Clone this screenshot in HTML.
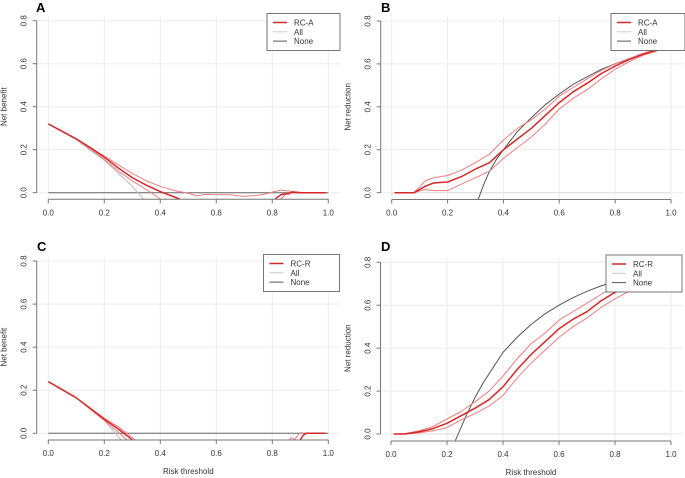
<!DOCTYPE html>
<html><head><meta charset="utf-8">
<style>
html,body{margin:0;padding:0;background:#fff;}
svg{display:block;font-family:"Liberation Sans",sans-serif;}
</style></head>
<body>
<svg id="fig" width="685" height="478" viewBox="0 0 685 478"></svg>
<script>
// ---------- data ----------
const xTicks = [0, 0.2, 0.4, 0.6, 0.8, 1.0];
const xTickLabels = ["0.0","0.2","0.4","0.6","0.8","1.0"];
const yTicks = [0, 0.2, 0.4, 0.6, 0.8];
const yTickLabels = ["0.0","0.2","0.4","0.6","0.8"];

// Panel A (net benefit, RC-A)
const aAllX = [0, 0.1, 0.2, 0.3, 0.34];
const aAllY = [0.32, 0.245, 0.15, 0.03, -0.03];
const aMeanX = [0, 0.1, 0.15, 0.2, 0.25, 0.3, 0.35, 0.4, 0.45, 0.47];
const aMeanY = [0.32, 0.25, 0.21, 0.165, 0.115, 0.07, 0.035, 0.005, -0.02, -0.03];
const aMean2X = [0.81, 0.83, 0.85, 0.87, 0.9, 0.99];
const aMean2Y = [-0.03, -0.01, -0.005, 0.002, 0.0, 0.0];
const aUpX = [0, 0.1, 0.2, 0.25, 0.3, 0.35, 0.4, 0.45, 0.5, 0.53, 0.56, 0.6, 0.65, 0.7, 0.75, 0.78, 0.8, 0.83, 0.86, 0.9];
const aUpY = [0.32, 0.25, 0.17, 0.13, 0.09, 0.055, 0.03, 0.01, -0.003, -0.015, -0.008, -0.01, -0.01, -0.017, -0.012, -0.005, 0.003, 0.012, 0.008, 0.002];
const aLoX = [0, 0.1, 0.2, 0.25, 0.3, 0.35, 0.4];
const aLoY = [0.32, 0.25, 0.155, 0.1, 0.055, 0.015, -0.03];
const aLo2X = [0.83, 0.85, 0.86, 0.87];
const aLo2Y = [-0.03, -0.005, -0.01, 0.005];

// Panel B (net reduction, RC-A)
const bNoneX = [0.31, 0.33, 0.35, 0.375, 0.4, 0.45, 0.5, 0.55, 0.6, 0.65, 0.7, 0.75, 0.8, 0.85, 0.9, 0.95, 1.0];
const bNoneY = [-0.03, 0.04, 0.1, 0.155, 0.2, 0.285, 0.35, 0.41, 0.46, 0.505, 0.54, 0.575, 0.6, 0.625, 0.645, 0.665, 0.68];
const bMeanX = [0.01, 0.08, 0.12, 0.15, 0.2, 0.25, 0.3, 0.35, 0.4, 0.45, 0.5, 0.55, 0.6, 0.65, 0.7, 0.75, 0.8, 0.85, 0.9, 0.95];
const bMeanY = [0, 0, 0.03, 0.045, 0.05, 0.075, 0.11, 0.14, 0.2, 0.25, 0.3, 0.36, 0.42, 0.47, 0.51, 0.555, 0.59, 0.62, 0.645, 0.665];
const bUpY = [0, 0, 0.055, 0.07, 0.08, 0.105, 0.14, 0.18, 0.245, 0.3, 0.34, 0.39, 0.45, 0.49, 0.53, 0.57, 0.6, 0.625, 0.65, 0.67];
const bLoY = [0, 0, 0.015, 0.01, 0.01, 0.04, 0.07, 0.1, 0.16, 0.21, 0.26, 0.32, 0.39, 0.44, 0.48, 0.53, 0.575, 0.61, 0.64, 0.66];

// Panel C (net benefit, RC-R)
const cAllX = [0, 0.1, 0.2, 0.26];
const cAllY = [0.24, 0.165, 0.06, -0.03];
const cMeanX = [0, 0.1, 0.2, 0.25, 0.3];
const cMeanY = [0.24, 0.165, 0.065, 0.02, -0.03];
const cUpX = [0, 0.1, 0.2, 0.25, 0.31];
const cUpY = [0.24, 0.165, 0.07, 0.03, -0.03];
const cLoX = [0, 0.1, 0.2, 0.25, 0.28];
const cLoY = [0.24, 0.165, 0.06, 0.005, -0.03];
const cMean2X = [0.9, 0.91, 0.92, 0.99];
const cMean2Y = [-0.03, -0.01, 0.0, 0.0];
const cUp2X = [0.86, 0.87, 0.88, 0.89, 0.9, 0.91];
const cUp2Y = [-0.03, -0.02, -0.03, -0.01, 0.003, 0.002];

// Panel D (net reduction, RC-R)
const dNoneX = [0.23, 0.25, 0.27, 0.3, 0.33, 0.36, 0.4, 0.45, 0.5, 0.55, 0.6, 0.65, 0.7, 0.75, 0.8];
const dNoneY = [-0.03, 0.03, 0.09, 0.17, 0.24, 0.3, 0.38, 0.45, 0.51, 0.56, 0.6, 0.635, 0.665, 0.69, 0.71];
const dMeanX = [0.01, 0.05, 0.1, 0.15, 0.2, 0.25, 0.3, 0.35, 0.4, 0.45, 0.5, 0.55, 0.6, 0.65, 0.7, 0.75, 0.8, 0.85];
const dMeanY = [0, 0, 0.01, 0.025, 0.05, 0.085, 0.12, 0.16, 0.22, 0.3, 0.37, 0.43, 0.49, 0.535, 0.57, 0.62, 0.66, 0.69];
const dUpY = [0, 0.002, 0.015, 0.035, 0.07, 0.105, 0.15, 0.2, 0.27, 0.35, 0.42, 0.47, 0.53, 0.57, 0.61, 0.65, 0.69, 0.71];
const dLoY = [0, 0, 0.005, 0.015, 0.03, 0.065, 0.095, 0.13, 0.18, 0.26, 0.33, 0.39, 0.45, 0.5, 0.54, 0.59, 0.63, 0.665];

// ---------- drawing ----------
const NS = "http://www.w3.org/2000/svg";
const svg = document.getElementById("fig");
function mk(tag, attrs, parent) {
  const e = document.createElementNS(NS, tag);
  for (const k in attrs) e.setAttribute(k, attrs[k]);
  (parent || svg).appendChild(e);
  return e;
}
let clipId = 0;
function panel(p) {
  const g = mk("g", {});
  
  
  const sx = v => p.x0 + (p.x1 - p.x0) * v;
  const sy = v => p.y0 - (p.y0 - p.y8) * v / 0.8;
  const yBottom = sy(-0.03);
  xTicks.forEach(t => { const l = mk("line", {x1: sx(t), x2: sx(t), y1: p.y8 - 4, y2: yBottom, stroke: "#ececec", "stroke-width": 1}, g);
      });
  yTicks.forEach(t => { const l = mk("line", {x1: p.yAxisX, x2: p.x1 + 12, y1: sy(t), y2: sy(t), stroke: "#ececec", "stroke-width": 1}, g);
      });
  clipId++;
  const cp = mk("clipPath", {id: "cp" + clipId}, g);
  mk("rect", {x: p.x0 - 2, y: p.y8 - 8, width: p.x1 - p.x0 + 14, height: yBottom - p.y8 + 8}, cp);
  const plot = mk("g", {"clip-path": "url(#cp" + clipId + ")"}, g);
  function line(xs, ys, color, w, name) {
    const d = xs.map((x, i) => (i ? "L" : "M") + sx(x).toFixed(1) + " " + sy(ys[i]).toFixed(1)).join(" ");
    const e = mk("path", {d: d, fill: "none", stroke: color, "stroke-width": w, "stroke-linejoin": "round"}, plot);
    
    
  }
  p.series.forEach(s => line(s[0], s[1], s[2], s[3], s[4]));
  const ya = mk("line", {x1: p.yAxisX, x2: p.yAxisX, y1: sy(0), y2: p.y8, stroke: "#777", "stroke-width": 1}, g);
   
  yTicks.forEach((t, i) => {
    mk("line", {x1: p.yAxisX - 4, x2: p.yAxisX, y1: sy(t), y2: sy(t), stroke: "#777"}, g);
    const tx = mk("text", {x: p.yAxisX - 10, y: sy(t), "font-size": 8, fill: "#333", "text-anchor": "middle",
      transform: "rotate(-90 " + (p.yAxisX - 10) + " " + sy(t) + ")"}, g);
    tx.textContent = yTickLabels[i];
     
  });
  const xa = mk("line", {x1: sx(0), x2: sx(1), y1: p.xAxisY, y2: p.xAxisY, stroke: "#777", "stroke-width": 1}, g);
   
  xTicks.forEach((t, i) => {
    mk("line", {x1: sx(t), x2: sx(t), y1: p.xAxisY, y2: p.xAxisY + 4, stroke: "#777"}, g);
    const tx = mk("text", {x: sx(t), y: p.xAxisY + 16, "font-size": 8, fill: "#333", "text-anchor": "middle"}, g);
    tx.textContent = xTickLabels[i];
     
  });
  const yt = mk("text", {x: p.yAxisX - 30, y: (sy(0) + p.y8) / 2, "font-size": 8, fill: "#333", "text-anchor": "middle",
    transform: "rotate(-90 " + (p.yAxisX - 30) + " " + (sy(0) + p.y8) / 2 + ")"}, g);
  yt.textContent = p.ylab;
   
  if (p.xlab) {
    const xt = mk("text", {x: (sx(0) + sx(1)) / 2, y: p.xAxisY + 34, "font-size": 8, fill: "#333", "text-anchor": "middle"}, g);
    xt.textContent = "Risk threshold";
     
  }
  const lt = mk("text", {x: p.letterX, y: p.letterY, "font-size": 13, "font-weight": "bold", fill: "#000"}, g);
  lt.textContent = p.letter;
   
  const lg = mk("g", {}, g);
   
  mk("rect", {x: p.lx, y: p.ly, width: p.lw, height: 37, fill: "#fff", stroke: "#555", "stroke-width": 0.8}, lg);
  const items = [[p.model, "#d62728", 1.5], ["All", "#c8c8c8", 1], ["None", "#555", 1]];
  items.forEach((it, i) => {
    const yy = p.ly + 9 + i * 9.3;
    mk("line", {x1: p.lx + 6, x2: p.lx + 20, y1: yy, y2: yy, stroke: it[1], "stroke-width": it[2]}, lg);
    const t = mk("text", {x: p.lx + 27, y: yy + 3, "font-size": 8, fill: "#333"}, lg);
    t.textContent = it[0];
     
  });
}
const RED = "#d62728", PINK = "#ec7f7f";
panel({letter: "A", letterX: 36, letterY: 12, x0: 48.3, x1: 328.3, y0: 192.7, y8: 20.7, yAxisX: 36.7, xAxisY: 199.3,
  ylab: "Net benefit", xlab: false, lx: 267, ly: 13.5, lw: 73, model: "RC-A",
  series: [[[0, 1], [0, 0], "#666", 1, "none-line"], [aAllX, aAllY, "#bdbdbd", 1, "all-line"],
    [aUpX, aUpY, PINK, 1, "upper-ci"], [aLoX, aLoY, PINK, 1, "lower-ci"], [aLo2X, aLo2Y, PINK, 1, "lower-ci-tail"],
    [aMeanX, aMeanY, RED, 1.5, "rc-a-line"], [aMean2X, aMean2Y, RED, 1.5, "rc-a-line-tail"]]});
panel({letter: "B", letterX: 381, letterY: 12, x0: 391.7, x1: 671, y0: 192.7, y8: 21, yAxisX: 380.7, xAxisY: 199.5,
  ylab: "Net reduction", xlab: false, lx: 611, ly: 13.5, lw: 74, model: "RC-A",
  series: [[[0, 1], [0, 0], "#ddd", 1, "all-line"], [bNoneX, bNoneY, "#555", 1, "none-curve"],
    [bMeanX, bUpY, PINK, 1, "upper-ci"], [bMeanX, bLoY, PINK, 1, "lower-ci"], [bMeanX, bMeanY, RED, 1.5, "rc-a-line"]]});
panel({letter: "C", letterX: 37, letterY: 251, x0: 48.3, x1: 328.3, y0: 433.3, y8: 261, yAxisX: 36.7, xAxisY: 440,
  ylab: "Net benefit", xlab: true, lx: 263.5, ly: 254.5, lw: 76, model: "RC-R",
  series: [[[0, 1], [0, 0], "#666", 1, "none-line"], [cAllX, cAllY, "#bdbdbd", 1, "all-line"],
    [cUpX, cUpY, PINK, 1, "upper-ci"], [cLoX, cLoY, PINK, 1, "lower-ci"], [cUp2X, cUp2Y, PINK, 1, "upper-ci-tail"],
    [cMeanX, cMeanY, RED, 1.5, "rc-r-line"], [cMean2X, cMean2Y, RED, 1.5, "rc-r-line-tail"]]});
panel({letter: "D", letterX: 381, letterY: 251, x0: 391, x1: 671, y0: 434, y8: 262.3, yAxisX: 380.5, xAxisY: 441,
  ylab: "Net reduction", xlab: true, lx: 606, ly: 255, lw: 76, model: "RC-R",
  series: [[[0, 1], [0, 0], "#ddd", 1, "all-line"], [dNoneX, dNoneY, "#555", 1, "none-curve"],
    [dMeanX, dUpY, PINK, 1, "upper-ci"], [dMeanX, dLoY, PINK, 1, "lower-ci"], [dMeanX, dMeanY, RED, 1.5, "rc-r-line"]]});
</script>
</body></html>
